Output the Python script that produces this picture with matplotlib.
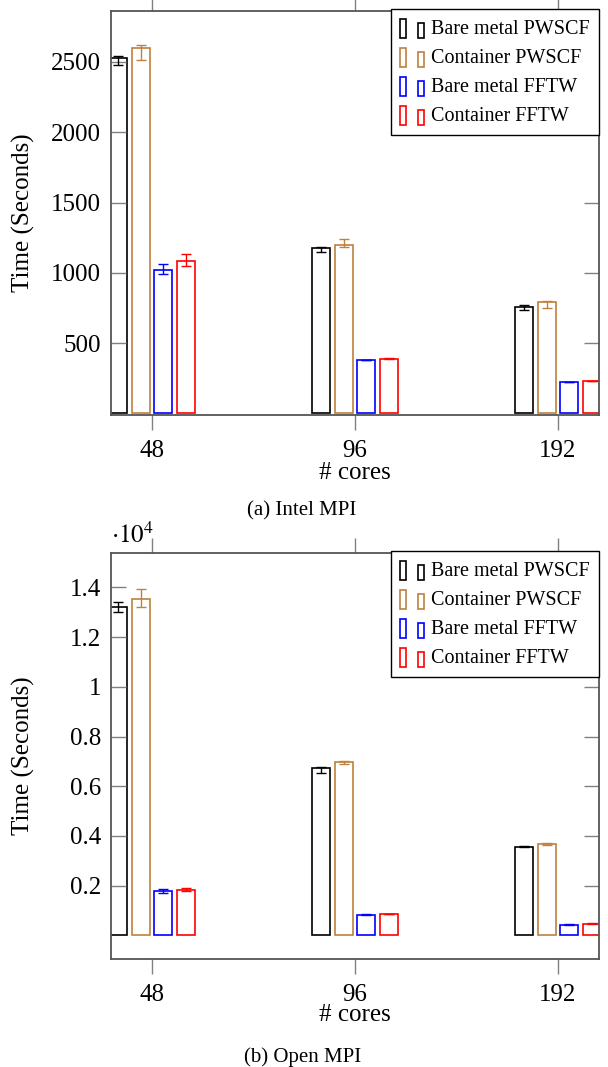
import numpy as np
import matplotlib
matplotlib.use('Agg')
from matplotlib import pyplot as plt
import matplotlib.patches as mpatches
from matplotlib.legend_handler import HandlerBase

plt.rcParams['font.family'] = ['Liberation Serif', 'DejaVu Serif']
plt.rcParams['mathtext.fontset'] = 'stix'

cores = ['48', '96', '192']
labels = ['Bare metal PWSCF', 'Container PWSCF', 'Bare metal FFTW', 'Container FFTW']
colors = ['black', '#bf8040', 'blue', 'red']

# Intel MPI: values, lower err, upper err
intel_bare_pwscf = [2530, 1174, 754]
intel_bare_pwscf_lo = [50, 28, 19]
intel_bare_pwscf_up = [15, 12, 19]
intel_cont_pwscf = [2598, 1198, 790]
intel_cont_pwscf_lo = [86, 17, 43]
intel_cont_pwscf_up = [25, 40, 11]
intel_bare_fftw = [1020, 379, 222]
intel_bare_fftw_lo = [29, 3, 2]
intel_bare_fftw_up = [42, 3, 2]
intel_cont_fftw = [1086, 386, 230]
intel_cont_fftw_lo = [38, 2, 3]
intel_cont_fftw_up = [45, 4, 3]

# Open MPI
open_bare_pwscf = [13212, 6716, 3558]
open_bare_pwscf_lo = [224, 190, 20]
open_bare_pwscf_up = [200, 40, 20]
open_cont_pwscf = [13520, 6955, 3684]
open_cont_pwscf_lo = [292, 57, 30]
open_cont_pwscf_up = [428, 70, 30]
open_bare_fftw = [1789, 835, 428]
open_bare_fftw_lo = [70, 15, 12]
open_bare_fftw_up = [70, 15, 12]
open_cont_fftw = [1846, 863, 470]
open_cont_fftw_lo = [70, 12, 10]
open_cont_fftw_up = [70, 12, 10]


class BarPairHandler(HandlerBase):
    def create_artists(self, legend, orig_handle, xdescent, ydescent,
                       width, height, fontsize, trans):
        ec = orig_handle.get_edgecolor()
        w = width * 0.24
        y0 = -ydescent - 0.1 * height
        r1 = mpatches.Rectangle((-xdescent, y0), w, height * 1.05,
                                facecolor='none', edgecolor=ec, lw=1.2)
        r2 = mpatches.Rectangle((-xdescent + width - w, y0), w, height * 0.8,
                                facecolor='none', edgecolor=ec, lw=1.2)
        r1.set_transform(trans)
        r2.set_transform(trans)
        return [r1, r2]


def draw(ax, series, ylim, yticks, yticklabels):
    x = np.arange(len(cores))
    offs = np.array([-1.5, -0.5, 0.5, 1.5]) * 0.111
    for (vals, lo, up), c, o in zip(series, colors, offs):
        ax.bar(x + o, vals, width=0.087, facecolor='white', edgecolor=c, linewidth=1.2)
        ax.errorbar(x + o, vals, yerr=[lo, up], fmt='none', ecolor=c,
                    elinewidth=1.0, capsize=3.5, capthick=1.0)
    ax.set_xlim(-0.202, 2.202)
    ax.set_ylim(*ylim)
    ax.set_xticks(x)
    ax.set_xticklabels(cores)
    ax.set_yticks(yticks)
    ax.set_yticklabels(yticklabels)
    ax.tick_params(axis='x', direction='out', top=True, bottom=True, length=11,
                   width=1, color='#808080', labelsize=18, pad=7)
    ax.tick_params(axis='y', direction='in', left=True, right=True, length=11,
                   width=1, color='#808080', labelsize=18, pad=7)
    for s in ax.spines.values():
        s.set_color('#555555')
        s.set_linewidth(1.3)
    ax.set_ylabel('Time (Seconds)', fontsize=18)
    ax.yaxis.label.set_va('center')
    ax.yaxis.set_label_coords(-0.18, 0.5)
    ax.set_xlabel('# cores', fontsize=18)
    ax.xaxis.label.set_va('center')

    proxies = [mpatches.Patch(facecolor='none', edgecolor=c) for c in colors]
    leg = ax.legend(proxies, labels, loc='upper right', bbox_to_anchor=(1.0, 1.005),
                    borderaxespad=0, fontsize=14.5, handlelength=1.2, handleheight=1.0,
                    handletextpad=0.35, labelspacing=0.4, borderpad=0.45,
                    fancybox=False, framealpha=1, edgecolor='black',
                    handler_map={mpatches.Patch: BarPairHandler()})
    leg.get_frame().set_linewidth(1.0)


def main():
    fig = plt.figure(figsize=(6.08, 10.67), dpi=100)
    ax1 = fig.add_axes([0.1826, 0.6111, 0.8026, 0.3786])
    ax2 = fig.add_axes([0.1826, 0.1012, 0.8026, 0.3805])

    draw(ax1,
         [(intel_bare_pwscf, intel_bare_pwscf_lo, intel_bare_pwscf_up),
          (intel_cont_pwscf, intel_cont_pwscf_lo, intel_cont_pwscf_up),
          (intel_bare_fftw, intel_bare_fftw_lo, intel_bare_fftw_up),
          (intel_cont_fftw, intel_cont_fftw_lo, intel_cont_fftw_up)],
         (-12, 2863), [500, 1000, 1500, 2000, 2500],
         ['500', '1000', '1500', '2000', '2500'])
    ax1.xaxis.set_label_coords(0.5, -0.1436)

    draw(ax2,
         [(open_bare_pwscf, open_bare_pwscf_lo, open_bare_pwscf_up),
          (open_cont_pwscf, open_cont_pwscf_lo, open_cont_pwscf_up),
          (open_bare_fftw, open_bare_fftw_lo, open_bare_fftw_up),
          (open_cont_fftw, open_cont_fftw_lo, open_cont_fftw_up)],
         (-950, 15380), [2000, 4000, 6000, 8000, 10000, 12000, 14000],
         ['0.2', '0.4', '0.6', '0.8', '1', '1.2', '1.4'])
    ax2.xaxis.set_label_coords(0.5, -0.138)
    ax2.text(0.0, 1.012, r'$\cdot 10^4$', transform=ax2.transAxes,
             fontsize=18, ha='left', va='bottom')

    fig.text(0.497, 1 - 511 / 1067, '(a) Intel MPI', fontsize=15, ha='center', va='center')
    fig.text(0.497, 1 - 1057 / 1067, '(b) Open MPI', fontsize=15, ha='center', va='center')

    plt.savefig('out.png')


if __name__ == '__main__':
    main()
